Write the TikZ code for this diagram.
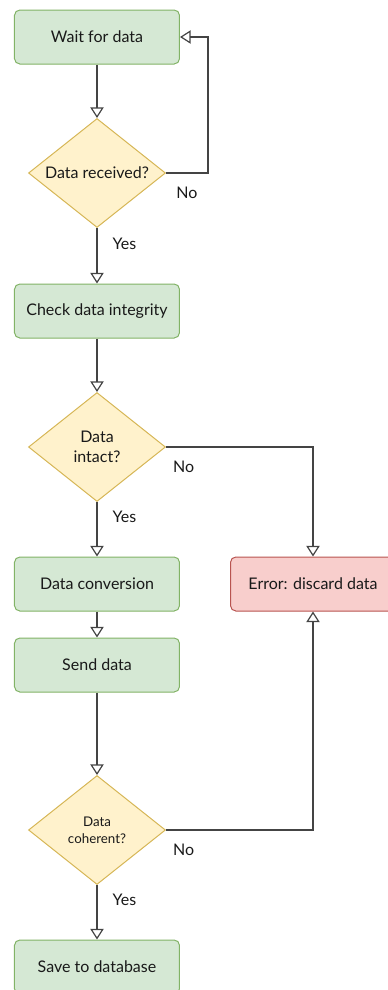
\documentclass[tikz,border=0pt]{standalone}
\usepackage{fontspec}
\setmainfont{Lato}
\usepackage{tikz}
\usetikzlibrary{positioning,arrows.meta,shapes.geometric}

\definecolor{okfill}{HTML}{D5E8D4}
\definecolor{okline}{HTML}{82B366}
\definecolor{askfill}{HTML}{FFF2CC}
\definecolor{askline}{HTML}{D6B656}
\definecolor{errfill}{HTML}{F8CECC}
\definecolor{errline}{HTML}{B85450}
\definecolor{flowline}{HTML}{444444}

\begin{document}
\begin{tikzpicture}[font=\fontsize{12}{15}\selectfont, text=black!90,
    stepbox/.style={draw=okline, fill=okfill, rounded corners=4pt, line width=0.75pt,
        minimum width=123.75pt, minimum height=40.5pt},
    errbox/.style={stepbox, draw=errline, fill=errfill},
    ask/.style={draw=askline, fill=askfill, diamond, aspect=1.26, line width=0.75pt, inner sep=0pt,
        minimum width=102.75pt, minimum height=81.75pt, align=center},
    flow/.style={draw=flowline, line width=0.9pt, -{Triangle[open, length=8pt, width=10pt]}},
    yeslbl/.style={pos=0.28, anchor=west, xshift=8pt},
    nolbl/.style={below=7pt}]
        \useasboundingbox (-72.75pt,27.75pt) rectangle (217.5pt,-714.75pt);

        \node (wait) [stepbox] {Wait for data};
        \node (recv) [ask, node distance=102pt, below of=wait] {Data received?};
        \node (check) [stepbox, node distance=103.5pt, below of=recv] {Check data integrity};
        \node (intact) [ask, node distance=102pt, below of=check] {Data\\intact?};
        \node (conv) [stepbox, node distance=102.75pt, below of=intact] {Data conversion};
        \node (err) [errbox, node distance=162pt, right of=conv] {Error: discard data};
        \node (send) [stepbox, node distance=60.75pt, below of=conv] {Send data};
        \node (coher) [ask, font=\fontsize{10}{12.75}\selectfont, node distance=123.75pt, below of=send] {Data\\coherent?};
        \node (save) [stepbox, node distance=102.75pt, below of=coher] {Save to database};

        \draw[flow] (wait) -- (recv);
        \draw[flow] (recv.east) -- node[nolbl] {No} ++(31.5pt,0) |- (wait.east);
        \draw[flow] (recv) -- node[yeslbl] {Yes} (check);
        \draw[flow] (check) -- (intact);
        \draw[flow] (intact.east) -| node[pos=0.06, nolbl] {No} (err);
        \draw[flow] (intact) -- node[yeslbl] {Yes} (conv);
        \draw[flow] (conv) -- (send);
        \draw[flow] (send) -- (coher);
        \draw[flow] (coher.east) -| node[pos=0.06, nolbl] {No} (err);
        \draw[flow] (coher) -- node[yeslbl] {Yes} (save);
    \end{tikzpicture}
\end{document}
